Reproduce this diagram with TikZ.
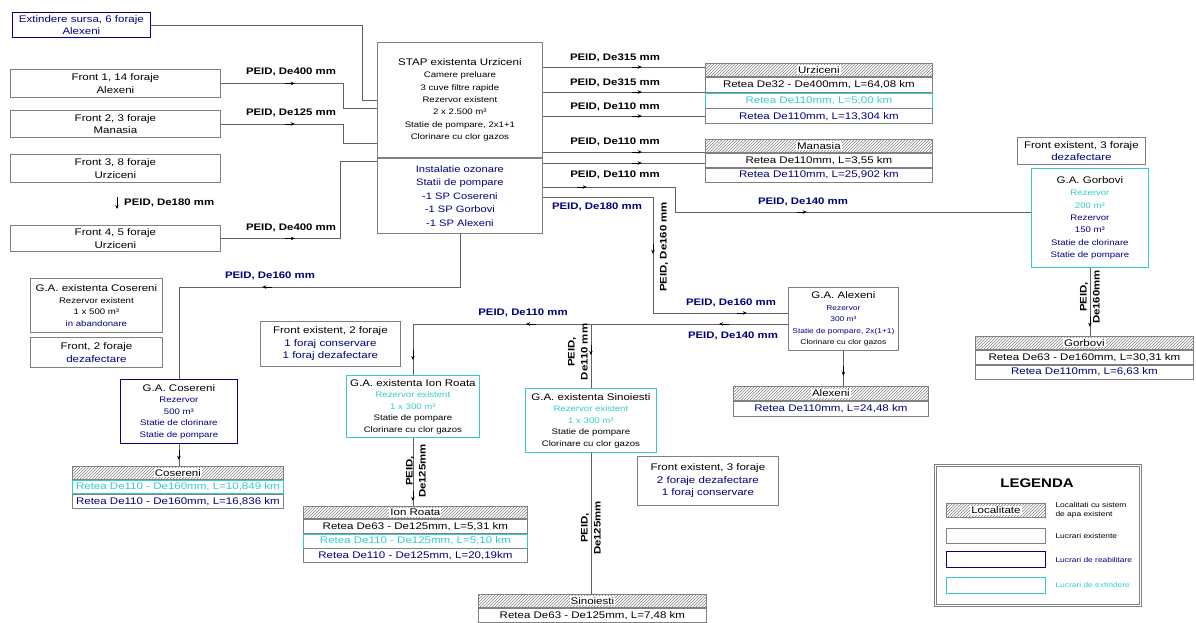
\documentclass[tikz,border=0pt]{standalone}
\usepackage{fontspec}
\setmainfont{Liberation Sans}[FakeStretch=1.2]
\usetikzlibrary{positioning,arrows.meta,patterns,decorations.markings}
\definecolor{gri}{RGB}{128,128,128}
\definecolor{linie}{RGB}{96,96,96}
\definecolor{bleu}{RGB}{0,0,128}
\definecolor{turc}{RGB}{51,204,204}
\newcommand\fmare{\fontsize{9.6}{12.5}\selectfont}
\newcommand\fmed{\fontsize{8}{12.3}\selectfont}
\newcommand\fmic{\fontsize{8}{11.5}\selectfont}
\newcommand\ftab{\fontsize{9.6}{11}\selectfont}
\newcommand\feti{\fontsize{9.5}{13}\selectfont\bfseries}
\newcommand\fleg{\fontsize{7}{8.5}\selectfont}
\newcommand\albastru[1]{\textcolor{bleu}{#1}}
\newcommand\turcoaz[1]{\textcolor{turc}{#1}}
\setlength{\fboxsep}{1pt}
\tikzset{
  existent/.style={draw=gri, line width=0.8pt, fill=white, align=center, inner sep=1pt},
  reabilitare/.style={existent, draw=bleu},
  extindere/.style={existent, draw=turc},
  localitate/.style={draw=gri, line width=0.8pt, pattern=north east lines, pattern color=gri, inner sep=1pt, font=\ftab},
  rand/.style={draw=gri, line width=0.8pt, fill=white, inner sep=1pt, font=\ftab},
  eticheta/.style={font=\feti, inner sep=0pt, align=center},
  conducta/.style={draw=linie, line width=0.8pt},
  sageata/.style={postaction={decorate,decoration={markings,mark=at position #1 with {\draw[black,line width=0.7pt,-{Stealth[length=4pt,width=3.5pt]}] (-9pt,0) -- (1pt,0);}}}},
}

\begin{document}
\begin{tikzpicture}[x=1pt,y=1pt,yscale=-1,xscale=1]
\useasboundingbox (0,0) rectangle (1196,622);

% Surse
\node[reabilitare, font=\fmare, text=bleu, anchor=north west, minimum width=138, minimum height=25] (extsursa) at (12,12) {Extindere sursa, 6 foraje\\Alexeni};
\node[existent, font=\fmare, anchor=north west, minimum width=210, minimum height=28] (front1) at (10,69) {Front 1, 14 foraje\\Alexeni};
\node[existent, font=\fmare, anchor=north west, minimum width=210, minimum height=27] (front2) at (10,110) {Front 2, 3 foraje\\Manasia};
\node[existent, font=\fmare, anchor=north west, minimum width=210, minimum height=28] (front3) at (10,154) {Front 3, 8 foraje\\Urziceni};
\node[existent, font=\fmare, anchor=north west, minimum width=210, minimum height=26] (front4) at (10,225) {Front 4, 5 foraje\\Urziceni};

% STAP
\node[existent, font=\fmed, anchor=north west, minimum width=165, minimum height=115] (stapsus) at (377,42) {{\fmare STAP existenta Urziceni}\\Camere preluare\\3 cuve filtre rapide\\Rezervor existent\\2 x 2.500 m³\\Statie de pompare, 2x1+1\\Clorinare cu clor gazos};
\node[existent, font=\fontsize{9.3}{13.5}\selectfont, text=bleu, below=0pt of stapsus, minimum width=165, minimum height=75] (stapjos) {Instalatie ozonare\\Statii de pompare\\-1 SP Cosereni\\-1 SP Gorbovi\\-1 SP Alexeni};

% Localitati
\node[localitate, anchor=north west, minimum width=227, minimum height=13] (urziceni) at (705,63) {\colorbox{white}{Urziceni}};
\node[rand, below=0pt of urziceni, minimum width=227, minimum height=15] (urziceni1) {Retea De32 - De400mm, L=64,08 km};
\node[rand, below=0pt of urziceni1, minimum width=227, minimum height=15, draw=turc, text=turc] (urziceni2) {Retea De110mm, L=5,00 km};
\node[rand, below=0pt of urziceni2, minimum width=227, minimum height=15, text=bleu] (urziceni3) {Retea De110mm, L=13,304 km};

\node[localitate, anchor=north west, minimum width=227, minimum height=13] (manasia) at (705,139) {\colorbox{white}{Manasia}};
\node[rand, below=0pt of manasia, minimum width=227, minimum height=14] (manasia1) {Retea De110mm, L=3,55 km};
\node[rand, below=0pt of manasia1, minimum width=227, minimum height=14, text=bleu] (manasia2) {Retea De110mm, L=25,902 km};

\node[localitate, anchor=north west, minimum width=218, minimum height=13] (gorbovi) at (975,336) {\colorbox{white}{Gorbovi}};
\node[rand, below=0pt of gorbovi, minimum width=218, minimum height=14] (gorbovi1) {Retea De63 - De160mm, L=30,31 km};
\node[rand, below=0pt of gorbovi1, minimum width=218, minimum height=14, text=bleu] (gorbovi2) {Retea De110mm, L=6,63 km};

\node[localitate, anchor=north west, minimum width=195, minimum height=14] (alexeni) at (733,386) {\colorbox{white}{Alexeni}};
\node[rand, below=0pt of alexeni, minimum width=195, minimum height=15, text=bleu] (alexeni1) {Retea De110mm, L=24,48 km};

\node[localitate, anchor=north west, minimum width=211, minimum height=13] (cosereni) at (72,466) {\colorbox{white}{Cosereni}};
\node[rand, below=0pt of cosereni, minimum width=211, minimum height=13.5, draw=turc, text=turc] (cosereni1) {Retea De110 - De160mm, L=10,849 km};
\node[rand, below=0pt of cosereni1, minimum width=211, minimum height=13.5, text=bleu] (cosereni2) {Retea De110 - De160mm, L=16,836 km};

\node[localitate, anchor=north west, minimum width=224, minimum height=12] (ionroata) at (303,506) {\colorbox{white}{Ion Roata}};
\node[rand, below=0pt of ionroata, minimum width=224, minimum height=14] (ionroata1) {Retea De63 - De125mm, L=5,31 km};
\node[rand, below=0pt of ionroata1, minimum width=224, minimum height=14, draw=turc, text=turc] (ionroata2) {Retea De110 - De125mm, L=5,10 km};
\node[rand, below=0pt of ionroata2, minimum width=224, minimum height=14, text=bleu] (ionroata3) {Retea De110 - De125mm, L=20,19km};

\node[localitate, anchor=north west, minimum width=228, minimum height=13] (sinoiesti) at (478,594) {\colorbox{white}{Sinoiesti}};
\node[rand, below=0pt of sinoiesti, minimum width=228, minimum height=14] (sinoiesti1) {Retea De63 - De125mm, L=7,48 km};

% Gospodarii de apa
\node[existent, font=\fmic, anchor=north west, minimum width=132, minimum height=54] (gaexcos) at (30,278) {{\fmare G.A. existenta Cosereni}\\Rezervor existent\\1 x 500 m³\\\albastru{in abandonare}};
\node[existent, font=\fmare, anchor=north west, minimum width=132, minimum height=30] (frontcos) at (30,337) {Front, 2 foraje\\\albastru{dezafectare}};
\node[reabilitare, font=\fmic, text=bleu, anchor=north west, minimum width=117, minimum height=64] (gacos) at (120,379) {{\fmare\color{black}G.A. Cosereni}\\Rezervor\\500 m³\\Statie de clorinare\\Statie de pompare};
\node[existent, font=\fmare, anchor=north west, minimum width=140, minimum height=45] (frontion) at (260,321) {Front existent, 2 foraje\\\albastru{1 foraj conservare}\\\albastru{1 foraj dezafectare}};
\node[extindere, font=\fmic, anchor=north west, minimum width=133, minimum height=62] (gaion) at (346,375) {{\fmare G.A. existenta Ion Roata}\\\turcoaz{Rezervor existent}\\\turcoaz{1 x 300 m³}\\Statie de pompare\\Clorinare cu clor gazos};
\node[extindere, font=\fmic, anchor=north west, minimum width=131, minimum height=64] (gasin) at (525,388) {{\fmare G.A. existenta Sinoiesti}\\\turcoaz{Rezervor existent}\\\turcoaz{1 x 300 m³}\\Statie de pompare\\Clorinare cu clor gazos};
\node[existent, font=\fmare, anchor=north west, minimum width=141, minimum height=49] (frontsin) at (637,456) {Front existent, 3 foraje\\\albastru{2 foraje dezafectare}\\\albastru{1 foraj conservare}};
\node[existent, font=\fontsize{7}{11.5}\selectfont, anchor=north west, minimum width=110, minimum height=63] (gaalex) at (788,287) {{\fmare G.A. Alexeni}\\\albastru{Rezervor}\\\albastru{300 m³}\\\albastru{Statie de pompare, 2x(1+1)}\\Clorinare cu clor gazos};
\node[existent, font=\fmare, anchor=north west, minimum width=128, minimum height=27] (frontgorb) at (1017,137) {Front existent, 3 foraje\\\albastru{dezafectare}};
\node[extindere, font=\fmed, anchor=north west, minimum width=117, minimum height=99] (gagorb) at (1031,168) {{\fmare G.A. Gorbovi}\\\turcoaz{Rezervor}\\\turcoaz{200 m³}\\\albastru{Rezervor}\\\albastru{150 m³}\\\albastru{Statie de clorinare}\\\albastru{Statie de pompare}};

% Nivele conducte
\coordinate (n0) at (362,100);
\coordinate (n1) at (343,108);
\coordinate (n2) at (343,143);
\coordinate (n4) at (340,161);
\coordinate (s1) at (0,67);
\coordinate (s2) at (0,92);
\coordinate (s3) at (0,116);
\coordinate (s4) at (0,152);
\coordinate (s5) at (0,163);
\coordinate (s6) at (0,187);
\coordinate (s7) at (0,197);
\coordinate (k6) at (675,212);
\coordinate (k7) at (653,313);
\coordinate (s8) at (0,324);
\coordinate (s10) at (0,287);

% Conducte
\draw[conducta] (extsursa.east) -| (n0) -- (n0 -| stapsus.west);
\draw[conducta, sageata=73pt] (front1.east) -| (n1) -- (n1 -| stapsus.west);
\draw[conducta, sageata=73pt] (front2.east) -| (n2) -- (n2 -| stapsus.west);
\draw[conducta, sageata=73pt] (front4.east) -| (n4) -- (n4 -| stapjos.west);
\draw[conducta, sageata=98pt] (s1 -| stapsus.east) -- (s1 -| urziceni.west);
\draw[conducta, sageata=98pt] (s2 -| stapsus.east) -- (s2 -| urziceni.west);
\draw[conducta, sageata=98pt] (s3 -| stapsus.east) -- (s3 -| urziceni.west);
\draw[conducta, sageata=98pt] (s4 -| stapsus.east) -- (s4 -| manasia.west);
\draw[conducta, sageata=98pt] (s5 -| stapjos.east) -- (s5 -| manasia.west);
\draw[conducta, sageata=43pt, sageata=288pt] (s6 -| stapjos.east) -| (k6) -- (k6 -| gagorb.west);
\draw[conducta, sageata=166pt, sageata=319pt] (s7 -| stapjos.east) -| (k7) -- (k7 -| gaalex.west);
\draw[conducta, sageata=68pt, sageata=261pt, sageata=410pt] (s8 -| gaalex.west) -| (gaion.north);
\draw[conducta, sageata=30pt] (s8 -| gasin.north) -- (gasin.north);
\draw[conducta, sageata=250pt] (stapjos.south) |- (s10 -| gacos.north) -- (gacos.north);
\draw[conducta, sageata=15pt] (gacos.south) -- (gacos.south |- cosereni.north);
\draw[conducta, sageata=24pt] (gaalex.south) -- (gaalex.south |- alexeni.north);
\draw[conducta, sageata=58pt] (gagorb.south) -- (gagorb.south |- gorbovi.north);
\draw[conducta, sageata=62pt] (gaion.south) -- (gaion.south |- ionroata.north);
\draw[conducta] (gasin.south) -- (gasin.south |- sinoiesti.north);

% Text Node
\node[eticheta] (et1) at (291,72) {PEID, De400 mm};
\node[eticheta] (et2) at (291,113) {PEID, De125 mm};
\node[eticheta, anchor=west] (et3) at (124,203) {PEID, De180 mm};
\draw[black, line width=0.7pt, -{Stealth[length=4pt,width=3.5pt]}] (et3.west) ++(-7,-6) -- ++(0,12);
\node[eticheta] (et4) at (291,228) {PEID, De400 mm};
\node[eticheta] (et5) at (615,58) {PEID, De315 mm};
\node[eticheta] (et6) at (615,83) {PEID, De315 mm};
\node[eticheta] (et7) at (615,107) {PEID, De110 mm};
\node[eticheta] (et8) at (615,142) {PEID, De110 mm};
\node[eticheta] (et9) at (615,175) {PEID, De110 mm};
\node[eticheta, text=bleu] (et10) at (597,207) {PEID, De180 mm};
\node[eticheta, rotate=90] (et11) at (664,247) {PEID, De160 mm};
\node[eticheta, text=bleu] (et12) at (803,202) {PEID, De140 mm};
\node[eticheta, text=bleu] (et13) at (731,303) {PEID, De160 mm};
\node[eticheta, text=bleu] (et14) at (733,336) {PEID, De140 mm};
\node[eticheta, text=bleu] (et15) at (523,313) {PEID, De110 mm};
\node[eticheta, text=bleu] (et16) at (270,276) {PEID, De160 mm};
\node[eticheta, rotate=90] (et17) at (578,352) {PEID,\\De110 mm};
\node[eticheta, rotate=90] (et18) at (416,471) {PEID,\\De125mm};
\node[eticheta, rotate=90] (et19) at (591,528) {PEID,\\De125mm};
\node[eticheta, rotate=90] (et20) at (1090,297) {PEID,\\De160mm};

% Legenda
\node[draw=gri, line width=1.2pt, double=white, double distance=1.2pt, anchor=north west, minimum width=205, minimum height=140] (legenda) at (935,465) {};
\node[font=\fontsize{12.5}{14}\selectfont\bfseries] (titlu) at (1037,483) {LEGENDA};
\node[localitate, anchor=north west, minimum width=99, minimum height=14] (leg1) at (946,503) {\colorbox{white}{Localitate}};
\node[existent, anchor=north west, minimum width=99, minimum height=15] (leg2) at (946,528) {};
\node[reabilitare, line width=1.2pt, anchor=north west, minimum width=99, minimum height=16] (leg3) at (946,551) {};
\node[extindere, anchor=north west, minimum width=99, minimum height=16] (leg4) at (946,577) {};
\node[font=\fleg, anchor=west, align=left] (tleg1) at (1052,510) {Localitati cu sistem\\de apa existent};
\node[font=\fleg, anchor=west] (tleg2) at (leg2.east -| tleg1.west) {Lucrari existente};
\node[font=\fleg, anchor=west, text=bleu] (tleg3) at (leg3.east -| tleg1.west) {Lucrari de reabilitare};
\node[font=\fleg, anchor=west, text=turc] (tleg4) at (leg4.east -| tleg1.west) {Lucrari de extindere};

\end{tikzpicture}
\end{document}
